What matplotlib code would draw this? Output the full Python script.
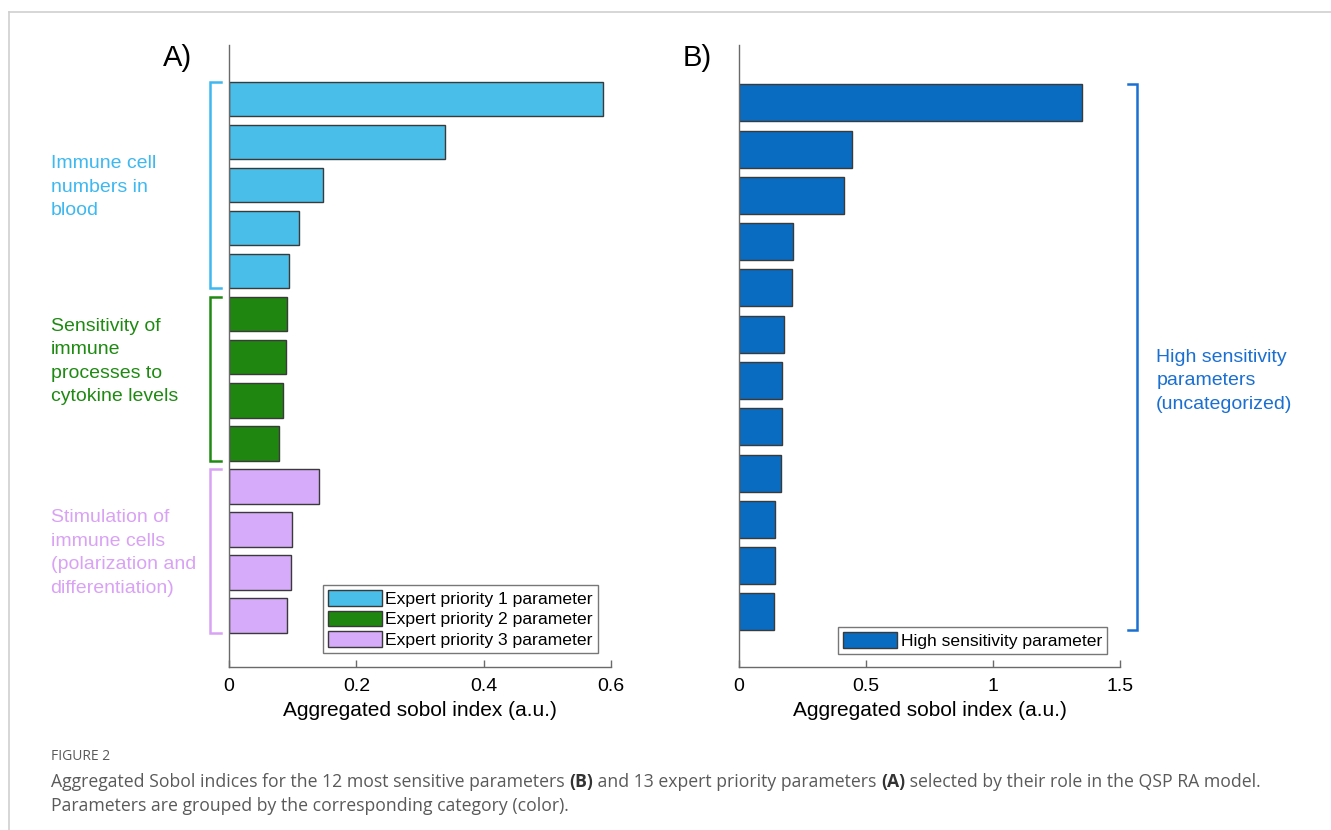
import matplotlib
matplotlib.use("Agg")
import matplotlib.pyplot as plt
from matplotlib.patches import Patch
from matplotlib.lines import Line2D

plt.rcParams['font.family'] = ['Liberation Sans', 'DejaVu Sans']

# ---------------- data ----------------
a_values_p1 = [0.587, 0.340, 0.147, 0.110, 0.095]
a_values_p2 = [0.091, 0.089, 0.085, 0.079]
a_values_p3 = [0.141, 0.099, 0.097, 0.091]
b_values = [1.352, 0.445, 0.413, 0.211, 0.209, 0.177, 0.170, 0.169, 0.165, 0.142, 0.141, 0.138]

a_group_labels = ["Immune cell\nnumbers in\nblood",
                  "Sensitivity of\nimmune\nprocesses to\ncytokine levels",
                  "Stimulation of\nimmune cells\n(polarization and\ndifferentiation)"]
a_legend = ["Expert priority 1 parameter", "Expert priority 2 parameter", "Expert priority 3 parameter"]
b_group_label = "High sensitivity\nparameters\n(uncategorized)"
b_legend = "High sensitivity parameter"
xlabel = "Aggregated sobol index (a.u.)"
a_xticks = [0, 0.2, 0.4, 0.6]
a_xticklabels = ["0", "0.2", "0.4", "0.6"]
b_xticks = [0, 0.5, 1, 1.5]
b_xticklabels = ["0", "0.5", "1", "1.5"]
caption_head = "FIGURE 2"
caption_parts_1 = [("Aggregated Sobol indices for the 12 most sensitive parameters ", False), ("(B)", True),
                   (" and 13 expert priority parameters ", False), ("(A)", True),
                   (" selected by their role in the QSP RA model.", False)]
caption_line_2 = "Parameters are grouped by the corresponding category (color)."

# ---------------- style ----------------
c1 = "#48BEE9"
c2 = "#1F870F"
c3 = "#D5ABFA"
cb = "#0A6CC0"
t1 = "#3DB8F0"
t2 = "#1E8A12"
t3 = "#D9A2F5"
tb = "#1A6FD2"
edge = "#3a3a3a"
spine_c = "#6a6a6a"
label_offsets = [-0.05, -0.5, -0.05]

W, H = 1331, 830
fig = plt.figure(figsize=(W / 100, H / 100), dpi=100)


def ax_rect(x0, x1, y0, y1):
    return [x0 / W, 1 - y1 / H, (x1 - x0) / W, (y1 - y0) / H]


axA = fig.add_axes(ax_rect(229, 611, 45, 667))
axB = fig.add_axes(ax_rect(739, 1120, 45, 667))

leg_kw = dict(fontsize=12.6, frameon=True, fancybox=False, edgecolor='#777777', framealpha=1,
              handlelength=3.1, handleheight=1.0, handletextpad=0.2, labelspacing=0.22,
              borderpad=0.28, borderaxespad=0)

# Panel A
groups = [(a_values_p1, c1, t1), (a_values_p2, c2, t2), (a_values_p3, c3, t3)]
pos = 1
handles = []
for (vals, col, tcol), lab, leg, off in zip(groups, a_group_labels, a_legend, label_offsets):
    ys = list(range(pos, pos + len(vals)))
    axA.barh(ys, vals, height=0.8, color=col, edgecolor=edge, linewidth=1.0)
    handles.append(Patch(facecolor=col, edgecolor=edge, linewidth=1.0, label=leg))
    y0, y1 = ys[0] - 0.4, ys[-1] + 0.4
    tr = axA.get_yaxis_transform()
    axA.add_line(Line2D([-0.02, -0.05, -0.05, -0.02], [y0, y0, y1, y1], transform=tr,
                        color=tcol, lw=1.8, clip_on=False, solid_joinstyle='miter'))
    axA.text(-0.467, (y0 + y1) / 2 + 0.1 + off, lab, transform=tr, color=tcol, fontsize=14,
             ha='left', va='center', linespacing=1.5)
    pos += len(vals)

axA.set_ylim(14.2, -0.26)
axA.set_xlim(0, 0.6)
axA.set_xticks(a_xticks)
axA.set_xticklabels(a_xticklabels)
axA.legend(handles=handles, loc='lower right', bbox_to_anchor=(0.966, 0.0225), **leg_kw)

# Panel B
ysb = list(range(1, len(b_values) + 1))
axB.barh(ysb, b_values, height=0.8, color=cb, edgecolor=edge, linewidth=1.0)
axB.set_ylim(13.19, -0.25)
axB.set_xlim(0, 1.5)
axB.set_xticks(b_xticks)
axB.set_xticklabels(b_xticklabels)
trb = axB.get_yaxis_transform()
y0, y1 = 0.6, len(b_values) + 0.4
axB.add_line(Line2D([1.02, 1.045, 1.045, 1.02], [y0, y0, y1, y1], transform=trb,
                    color=tb, lw=1.8, clip_on=False, solid_joinstyle='miter'))
axB.text(1.095, 7.0, b_group_label, transform=trb, color=tb, fontsize=14,
         ha='left', va='center', linespacing=1.5)
axB.legend(handles=[Patch(facecolor=cb, edgecolor=edge, linewidth=1.0, label=b_legend)],
           loc='lower right', bbox_to_anchor=(0.966, 0.021), **leg_kw)

for ax in (axA, axB):
    for s in ('top', 'right'):
        ax.spines[s].set_visible(False)
    for s in ('left', 'bottom'):
        ax.spines[s].set_color(spine_c)
        ax.spines[s].set_linewidth(1.0)
    ax.set_yticks([])
    ax.tick_params(axis='x', direction='in', length=5, width=1.0, color=spine_c,
                   labelsize=14, pad=8, labelcolor='black')
    ax.set_xlabel(xlabel, fontsize=15, labelpad=4)

fig.text(163 / W, 1 - 58 / H, "A)", fontsize=21, ha='left', va='center')
fig.text(683 / W, 1 - 58 / H, "B)", fontsize=21, ha='left', va='center')

# frame lines
fig.add_artist(Line2D([9 / W, 9 / W], [0, 1 - 12 / H], transform=fig.transFigure, color='#cfcfcf', lw=1.2))
fig.add_artist(Line2D([9 / W, 1], [1 - 12 / H, 1 - 12 / H], transform=fig.transFigure, color='#cfcfcf', lw=1.2))

# caption
capfont = ['Open Sans', 'DejaVu Sans']
gray = '#5a5a5a'
fig.text(51 / W, 1 - 757 / H, caption_head, fontsize=10, color=gray, family=capfont,
         ha='left', va='center')

fig.canvas.draw()
renderer = fig.canvas.get_renderer()

target_w = 1262 - 51
base = 10.0
texts = []
for s, b in caption_parts_1:
    t = fig.text(0, 0, s, fontsize=base, family=capfont, fontweight='bold' if b else 'normal')
    texts.append(t)
tot = sum(t.get_window_extent(renderer).width for t in texts)
for t in texts:
    t.remove()
fs = base * target_w / tot

x = 51
for s, b in caption_parts_1:
    t = fig.text(x / W, 1 - 782 / H, s, fontsize=fs, family=capfont, color=gray if not b else '#333333',
                 fontweight='bold' if b else 'normal', ha='left', va='center')
    x += t.get_window_extent(renderer).width
fig.text(51 / W, 1 - 806 / H, caption_line_2, fontsize=fs, family=capfont, color=gray,
         ha='left', va='center')

fig.savefig("out.png", dpi=100)
